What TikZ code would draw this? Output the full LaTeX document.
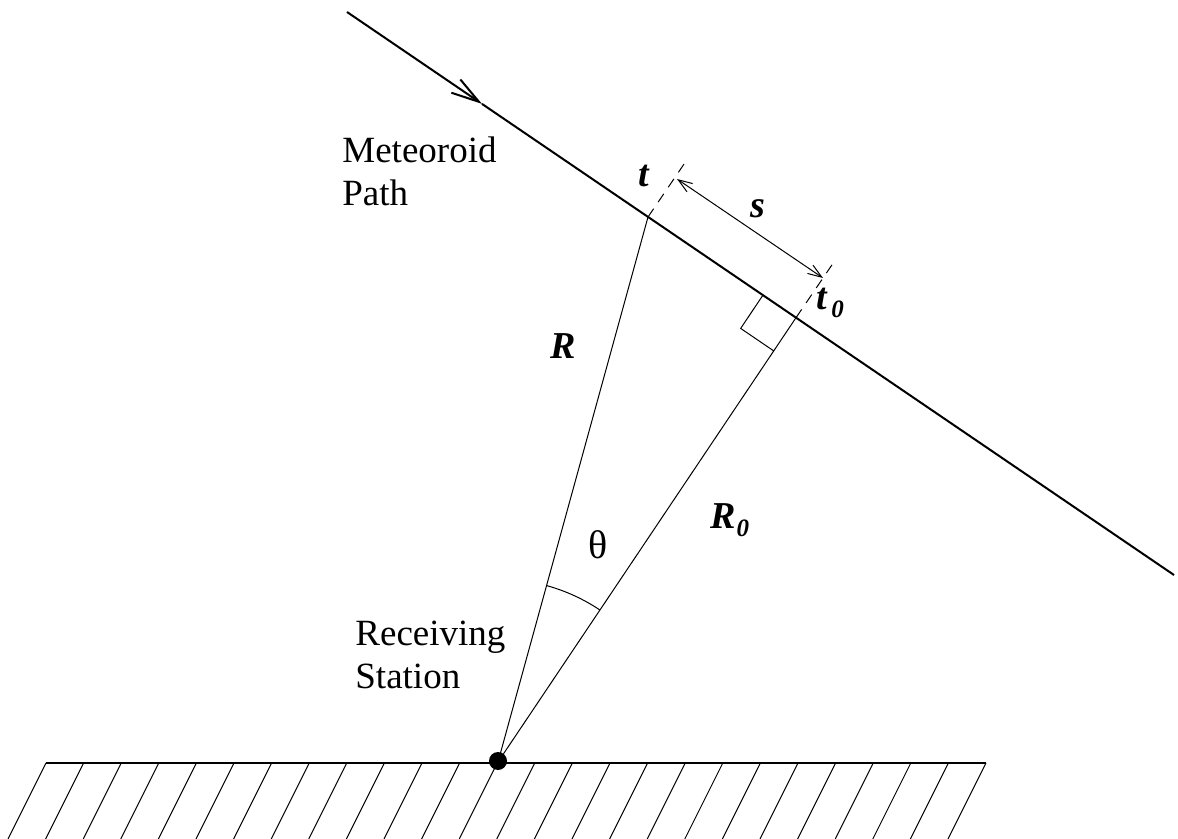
\documentclass[tikz,border=0pt]{standalone}
\usepackage{fontspec}
\setmainfont{Liberation Serif}
\usetikzlibrary{arrows.meta,calc,angles}
\begin{document}
\begin{tikzpicture}[x=0.5pt,y=-0.5pt,
  thinline/.style={line width=0.5pt},
  pathline/.style={line width=1pt},
  dashline/.style={line width=0.5pt,dash pattern=on 5pt off 4pt},
  lbl/.style={font=\fontsize{19}{19}\selectfont\bfseries\itshape, inner sep=0pt},
  subs/.style={font=\fontsize{12.5}{12.5}\selectfont\bfseries\itshape, inner sep=0pt},
  txt/.style={font=\fontsize{18.5}{21.5}\selectfont, align=left, inner sep=0pt, anchor=north west},
  hatch/.style={line width=0.5pt},
  bigbarb/.style={-{Straight Barb[length=14pt,width=8pt]}},
  smallbarbs/.style={{Straight Barb[length=7pt,width=5pt]}-{Straight Barb[length=7pt,width=5pt]}}]
\useasboundingbox (0,0) rectangle (1178,839);
% meteoroid path
\coordinate (A) at (347,12);
\coordinate (B) at (1174,575);
\coordinate (M) at (482,103.9);
\coordinate (T) at (648,217);
\coordinate (P) at (796,317.7);
\coordinate (S) at (498,762);
\draw[pathline,bigbarb] (A) -- (M);
\draw[pathline] (M) -- (B);
% ranges
\draw[thinline] (S) -- (T);
\draw[thinline] (S) -- (P);
% dashed markers and s arrow
\coordinate (Te) at (685.7,161.6);
\coordinate (Pe) at (833.7,262.3);
\draw[dashline] (T) -- (Te);
\draw[dashline] (P) -- (Pe);
\coordinate (s1) at (677,179);
\coordinate (s2) at (823,278);
\draw[thinline,smallbarbs] (s1) -- (s2);
% right angle
\coordinate (ra1) at ($(P)!20pt!(A)$);
\coordinate (ra2) at ($(P)!20pt!(S)$);
\coordinate (ra3) at ($(ra1)+(ra2)-(P)$);
\draw[thinline] (ra1) -- (ra3) -- (ra2);
% angle theta
\pic[draw,thinline,angle radius=91.5pt] {angle=P--S--T};
% ground
\coordinate (G1) at (46,763);
\coordinate (G2) at (986,763);
\draw[line width=0.7pt] (G1) -- (G2);
\foreach \i in {0,...,25} \draw[hatch] ({46+37.6*\i},763) -- ({8+37.6*\i},839);
\fill (498,761) circle[radius=4.5pt];
% labels
\node[txt] (mp) at (342,136) {Meteoroid\\Path};
\node[txt] (rs) at (355,621) {Receiving\\Station};
\node[lbl,anchor=base] (tl) at (644,187) {t};
\node[lbl,anchor=base] (sl) at (758,218) {s};
\node[lbl,anchor=base] (rl) at (563,359) {R};
\node[lbl,anchor=base west] (r0) at (710,529) {R};
\node[subs,anchor=base west] (r0s) at (r0.base east) [yshift=-4pt] {0};
\node[lbl,anchor=base west] (t0) at (816,310) {t};
\node[subs,anchor=base west] (t0s) at (831,318) {0};
\node[font=\fontsize{20}{20}\selectfont, inner sep=0pt] (th) at (598,545) {θ};
\end{tikzpicture}
\end{document}
